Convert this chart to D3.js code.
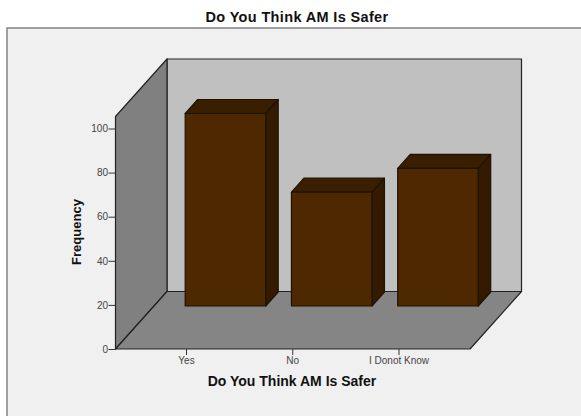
<!DOCTYPE html>
<html>
<head>
<meta charset="utf-8">
<script src="https://cdnjs.cloudflare.com/ajax/libs/d3/7.8.5/d3.min.js"></script>
<style>
  html, body { margin: 0; padding: 0; background: #fff; }
  svg { display: block; }
  text { font-family: "Liberation Sans", Arial, sans-serif; }
</style>
</head>
<body>
<svg id="chart" width="581" height="416"></svg>
<script>
// Survey responses
const categories = ["Yes", "No", "I Donot Know"];
const frequencies = [87.3, 51.6, 62.4];
const frequencyTicks = [0, 20, 40, 60, 80, 100];

const chartTitle = "Do You Think AM Is Safer";
const xTitle = "Do You Think AM Is Safer";
const yTitle = "Frequency";

const svg = d3.select("#chart");

// Front plane of the 3D box
const front = { left: 115.5, right: 470, bottom: 349, top: 116.5 };
// Oblique offset from the front plane to the back wall, and to the bar fronts
const depth = { dx: 51.5, dy: -57.5 };
const barInset = 43;
const barDepth = { dx: 12.5, dy: -14 };

const y = d3.scaleLinear().domain([0, 100]).range([front.bottom, 128.5]);
const x = d3.scalePoint().domain(categories).range([186, 398.5]);
const barWidth = 80.5;

const edge = "#222";
const polygon = pts => pts.map(p => p.join(",")).join(" ");

// Chart frame
svg.append("rect").attr("x", 7).attr("y", 28).attr("width", 590).attr("height", 400)
  .attr("fill", "#f0f0f0").attr("stroke", "#8a8a8a").attr("stroke-width", 1.6);

// Box walls
const bl = [front.left, front.bottom], br = [front.right, front.bottom], tl = [front.left, front.top];
const back = p => [p[0] + depth.dx, p[1] + depth.dy];
const g3d = svg.append("g").attr("stroke", edge).attr("stroke-width", 1.2).attr("stroke-linejoin", "round");
g3d.append("polygon").attr("points", polygon([back(tl), [back(br)[0], back(tl)[1]], back(br), back(bl)])).attr("fill", "#c0c0c0");
g3d.append("polygon").attr("points", polygon([bl, tl, back(tl), back(bl)])).attr("fill", "#808080");
g3d.append("polygon").attr("points", polygon([bl, br, back(br), back(bl)])).attr("fill", "#858585");

// Bars: front face, top face and right side face
const barBase = front.bottom - barInset;
const bars = svg.append("g").selectAll("g")
  .data(categories.map((c, i) => ({ c, v: frequencies[i] })))
  .join("g")
  .attr("stroke", "#1f1203").attr("stroke-width", 1.2).attr("stroke-linejoin", "round");

const barTop = d => barBase - (y(0) - y(d.v));
const barLeft = d => x(d.c) - 0.8;

bars.append("polygon").attr("fill", "#3a1e00").attr("points", d => {
  const l = barLeft(d), r = l + barWidth, t = barTop(d);
  return polygon([[l, t], [r, t], [r + barDepth.dx, t + barDepth.dy], [l + barDepth.dx, t + barDepth.dy]]);
});
bars.append("polygon").attr("fill", "#331a00").attr("points", d => {
  const r = barLeft(d) + barWidth, t = barTop(d);
  return polygon([[r, t], [r + barDepth.dx, t + barDepth.dy], [r + barDepth.dx, barBase + barDepth.dy], [r, barBase]]);
});
bars.append("rect").attr("fill", "#4d2800")
  .attr("x", barLeft).attr("y", barTop)
  .attr("width", barWidth).attr("height", d => barBase - barTop(d));

// Axes
const yAxis = d3.axisLeft(y).tickValues(frequencyTicks).tickSize(7).tickPadding(0.5);
const yG = svg.append("g").attr("transform", `translate(${front.left},0)`).call(yAxis);
const xAxis = d3.axisBottom(x).tickSize(6).tickPadding(2);
const xG = svg.append("g").attr("transform", `translate(0,${front.bottom})`).call(xAxis);
[yG, xG].forEach(g => {
  g.select(".domain").remove();
  g.selectAll(".tick line").attr("stroke", "#333").attr("stroke-width", 1);
  g.selectAll(".tick text").attr("fill", "#444").attr("font-size", 10)
    .style("font-family", '"Liberation Sans", Arial, sans-serif');
});

// Titles
svg.append("text").attr("x", 297).attr("y", 22).attr("text-anchor", "middle")
  .attr("font-size", 14.5).attr("letter-spacing", 0.35).attr("font-weight", "bold").attr("fill", "#111").text(chartTitle);
svg.append("text").attr("x", 292).attr("y", 385.5).attr("text-anchor", "middle")
  .attr("font-size", 14).attr("font-weight", "bold").attr("fill", "#111").text(xTitle);
svg.append("text").attr("transform", "translate(81,232) rotate(-90)").attr("text-anchor", "middle")
  .attr("font-size", 13).attr("font-weight", "bold").attr("fill", "#111").text(yTitle);
</script>
</body>
</html>
